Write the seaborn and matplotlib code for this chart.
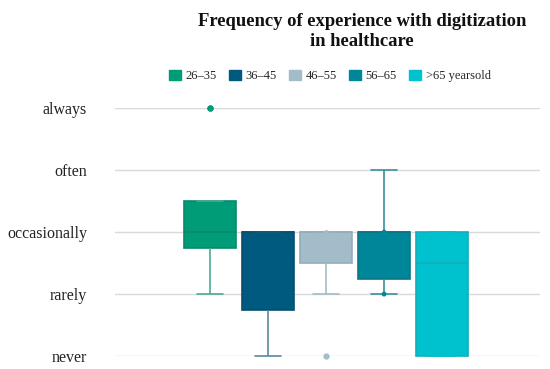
import numpy as np
import pandas as pd
import seaborn as sns
import matplotlib.pyplot as plt
from matplotlib.patches import Patch

# answers per age group (1=never ... 5=always)
groups = ["26\u201335", "36\u201345", "46\u201355", "56\u201365", ">65 yearsold"]
g_26_35 = [2, 2, 3, 3, 3, 3, 5, 5]
g_36_45 = [1, 1, 2, 3, 3, 3, 3, 3]
g_46_55 = [1, 2, 3, 3, 3, 3, 3]
g_56_65 = [2, 2, 3, 3, 3, 4]
g_65_up = [1, 1, 1, 2, 3, 3, 3, 3]
# extra points shown on the chart
extra_groups = ["46\u201355", "56\u201365", "56\u201365"]
extra_values = [3, 3, 2]

levels = ["never", "rarely", "occasionally", "often", "always"]
colors = ["#009B77", "#005A80", "#A2BCCA", "#008699", "#00C1CE"]
edge_colors = ["#0B8A6C", "#0A4F70", "#93ADBB", "#0B7787", "#12AEBA"]
whisk_colors = ["#4EA894", "#5A88A0", "#A2BCCA", "#3C8E9C", "#00C1CE"]

rows = []
for g, vals in zip(groups, [g_26_35, g_36_45, g_46_55, g_56_65, g_65_up]):
    for v in vals:
        rows.append({"age": g, "score": v})
df = pd.DataFrame(rows)
extra = pd.DataFrame({"age": extra_groups, "score": extra_values})

sns.set_style("white")
plt.rcParams["font.family"] = ["Liberation Serif", "DejaVu Serif"]

fig = plt.figure(figsize=(5.5, 3.69), dpi=100)
ax = fig.add_axes([0.209, 0.035, 0.773, 0.672])

sns.boxplot(data=df, x="age", y="score", hue="age", order=groups,
            hue_order=groups, palette=colors, width=0.91, whis=1.5,
            linewidth=1.2, legend=False, ax=ax,
            flierprops=dict(marker="o", markersize=3.5),
            capprops=dict(linewidth=1.2))

for i, c in enumerate(ax.containers):
    for b in c.boxes:
        b.set_facecolor(colors[i])
        b.set_edgecolor(edge_colors[i])
        b.set_clip_on(False)
    for m in c.medians:
        m.set_color(edge_colors[i])
        m.set_linewidth(1.2)
    for w in c.whiskers:
        w.set_color(whisk_colors[i])
    for cp in c.caps:
        cp.set_color(whisk_colors[i])
        cp.set_clip_on(False)
    for f in c.fliers:
        f.set_markerfacecolor(colors[i])
        f.set_markeredgecolor(colors[i])
        f.set_clip_on(False)

sns.stripplot(data=extra, x="age", y="score", hue="age", order=groups,
              hue_order=groups, palette=colors, jitter=False, size=3.5,
              legend=False, ax=ax, clip_on=False, zorder=5)

ax.set_xlim(-1.64, 5.69)
ax.set_ylim(1, 5)
ax.set_yticks([1, 2, 3, 4, 5])
ax.set_yticklabels(levels, fontsize=11.5, color="#222222")
ax.yaxis.grid(True, color="#D9D9D9", linewidth=1)
ax.set_axisbelow(True)
ax.set_xticks([])
ax.set_xlabel("")
ax.set_ylabel("")
ax.tick_params(axis="y", length=0, pad=20)
sns.despine(ax=ax, left=True, bottom=True)

fig.text(0.658, 0.915, "Frequency of experience with digitization\nin healthcare",
         ha="center", va="center", fontsize=13.4, fontweight="bold",
         linespacing=1.25, color="#111111")

handles = [Patch(facecolor=c, edgecolor=c) for c in colors]
fig.legend(handles, groups, loc="center", bbox_to_anchor=(0.6, 0.794),
           ncol=5, frameon=False, fontsize=9, handlelength=0.9,
           handleheight=0.9, handletextpad=0.4, columnspacing=1.0)

fig.savefig("out.png", dpi=100)
